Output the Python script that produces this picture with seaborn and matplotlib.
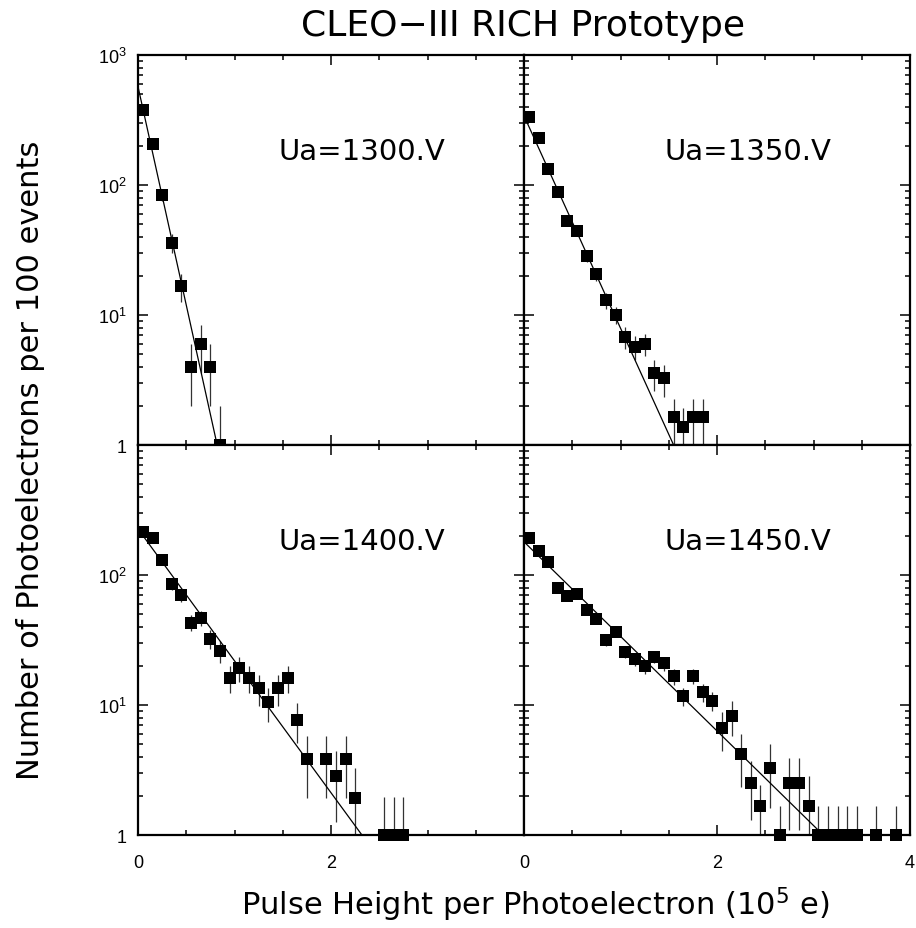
import matplotlib
matplotlib.use("Agg")
import matplotlib.pyplot as plt
import matplotlib.ticker as mticker
import numpy as np
import pandas as pd
import seaborn as sns

sns.set_style("ticks")
plt.rcParams['font.family'] = ['DejaVu Sans']
plt.rcParams['text.color'] = 'black'
plt.rcParams['xtick.color'] = 'black'
plt.rcParams['ytick.color'] = 'black'
plt.rcParams['axes.labelcolor'] = 'black'

# bin centres (10^5 e) and photoelectrons per 100 events
x_1300 = [0.05, 0.15, 0.25, 0.35, 0.45, 0.55, 0.65, 0.75, 0.85]
y_1300 = [375, 205, 84, 36, 16.6, 4, 6, 4, 1]
e_1300 = [19, 14, 9, 6, 4, 2, 2.4, 2, 1]

x_1350 = [0.05, 0.15, 0.25, 0.35, 0.45, 0.55, 0.65, 0.75, 0.85, 0.95,
          1.05, 1.15, 1.25, 1.35, 1.45, 1.55, 1.65, 1.75, 1.85]
y_1350 = [332, 229, 133, 88, 53, 44.5, 28.3, 20.5, 13, 10,
          6.8, 5.7, 6.0, 3.56, 3.26, 1.63, 1.37, 1.63, 1.63]
e_1350 = [9, 7.6, 5.8, 4.7, 3.6, 3.3, 2.7, 2.3, 1.8, 1.5,
          1.3, 1.2, 1.2, 0.95, 0.9, 0.63, 0.55, 0.63, 0.63]

x_1400 = [0.05, 0.15, 0.25, 0.35, 0.45, 0.55, 0.65, 0.75, 0.85, 0.95,
          1.05, 1.15, 1.25, 1.35, 1.45, 1.55, 1.65, 1.75, 1.95, 2.05,
          2.15, 2.25, 2.55, 2.65, 2.75]
y_1400 = [215, 194, 130, 86, 70, 43, 46.7, 32.4, 26, 16.2,
          19.1, 16.2, 13.4, 10.5, 13.4, 16.2, 7.7, 3.84, 3.84, 2.86,
          3.84, 1.91, 1, 1, 1]
e_1400 = [14, 13, 11, 9, 8, 6.2, 6.5, 5.4, 4.8, 3.8,
          4.2, 3.8, 3.5, 3.1, 3.5, 3.8, 2.6, 1.9, 1.9, 1.6,
          1.9, 1.35, 0.95, 0.95, 0.95]

x_1450 = [0.05, 0.15, 0.25, 0.35, 0.45, 0.55, 0.65, 0.75, 0.85, 0.95,
          1.05, 1.15, 1.25, 1.35, 1.45, 1.55, 1.65, 1.75, 1.85, 1.95,
          2.05, 2.15, 2.25, 2.35, 2.45, 2.55, 2.65, 2.75, 2.85, 2.95,
          3.05, 3.15, 3.25, 3.35, 3.45, 3.65, 3.85]
y_1450 = [193, 152, 127, 80, 68.5, 71.4, 54, 46, 31.6, 36.6,
          25.7, 22.6, 19.8, 23.5, 20.9, 16.6, 11.7, 16.6, 12.5, 10.8,
          6.6, 8.3, 4.17, 2.5, 1.66, 3.3, 1, 2.5, 2.5, 1.66,
          1, 1, 1, 1, 1, 1, 1]
e_1450 = [7.6, 6.8, 6.2, 4.9, 4.5, 4.6, 4, 3.7, 3.1, 3.3,
          2.8, 2.6, 2.4, 2.6, 2.5, 2.3, 1.8, 2.2, 2, 1.8,
          2.2, 2.5, 1.85, 1.2, 0.75, 1.7, 0.68, 1.4, 1.4, 1.2,
          0.68, 0.68, 0.68, 0.68, 0.68, 0.68, 0.68]

# exponential fit lines: end points (straight on log scale)
fit_x = {"1300": [0, 0.82], "1350": [0, 1.55], "1400": [0, 2.32], "1450": [0, 3.1]}
fit_y = {"1300": [570, 1], "1350": [340, 1], "1400": [226, 1], "1450": [180, 1]}

panels = [("1300", x_1300, y_1300, e_1300),
          ("1350", x_1350, y_1350, e_1350),
          ("1400", x_1400, y_1400, e_1400),
          ("1450", x_1450, y_1450, e_1450)]

fig = plt.figure(figsize=(9.16, 9.29), dpi=100)

W, H = 0.4214, 0.4198
L, B = 0.1507, 0.1001
pos = [(L, B + H), (L + W, B + H), (L, B), (L + W, B)]

def ytick_fmt(v, p):
    e = int(round(np.log10(v)))
    return "1" if e == 0 else r"$\mathregular{10^{%d}}$" % e

for i, (volt, xs, ys, es) in enumerate(panels):
    ax = fig.add_axes([pos[i][0], pos[i][1], W, H])
    df = pd.DataFrame({"x": xs, "y": ys})
    fd = pd.DataFrame({"x": fit_x[volt], "y": fit_y[volt]})

    ax.errorbar(xs, ys, yerr=es, fmt='none', ecolor='#333333', elinewidth=0.9, capsize=0)
    sns.lineplot(data=fd, x="x", y="y", ax=ax, color='black', linewidth=0.9)
    sns.scatterplot(data=df, x="x", y="y", ax=ax, marker='s', s=64, color='black',
                    linewidth=0, clip_on=False, zorder=5)

    ax.set_yscale('log')
    ax.set_xlim(0, 4)
    ax.set_ylim(1, 1000)
    ax.set_xlabel("")
    ax.set_ylabel("")

    ax.xaxis.set_major_locator(mticker.MultipleLocator(2))
    ax.xaxis.set_minor_locator(mticker.MultipleLocator(0.5))
    ax.yaxis.set_major_locator(mticker.LogLocator(base=10, numticks=10))
    ax.yaxis.set_minor_locator(mticker.LogLocator(base=10, subs=np.arange(2, 10), numticks=10))
    ax.yaxis.set_minor_formatter(mticker.NullFormatter())

    ax.tick_params(which='both', direction='in', top=True, right=True, width=1.1,
                   labelsize=13)
    ax.tick_params(which='major', length=7)
    ax.tick_params(which='minor', length=3.6)
    ax.tick_params(axis='x', which='both', pad=14)
    ax.tick_params(axis='y', which='both', pad=8)

    for sp in ax.spines.values():
        sp.set_linewidth(1.6)
        sp.set_color('black')

    # tick labels only on the outer edges, without overlaps at the joins
    if i % 2 == 0:
        yt = [1, 10, 100, 1000] if i == 0 else [1, 10, 100]
        ax.yaxis.set_major_formatter(mticker.FuncFormatter(
            lambda v, p, yt=yt: ytick_fmt(v, p) if any(np.isclose(v, t) for t in yt) else ""))
    else:
        ax.yaxis.set_major_formatter(mticker.NullFormatter())
    if i >= 2:
        xt = [0, 2] if i == 2 else [0, 2, 4]
        ax.xaxis.set_major_formatter(mticker.FuncFormatter(
            lambda v, p, xt=xt: "%d" % v if any(np.isclose(v, t) for t in xt) else ""))
    else:
        ax.xaxis.set_major_formatter(mticker.NullFormatter())
    for lab in ax.get_xticklabels() + ax.get_yticklabels():
        lab.set_fontfamily('Liberation Sans')

    ax.text(0.58, 0.755, f"Ua={volt}.V", transform=ax.transAxes,
            ha='center', va='center', fontsize=21)

fig.text(0.571, 0.972, "CLEO\u2212III RICH Prototype", ha='center', va='center', fontsize=26)
fig.text(0.584, 0.026, r"Pulse Height per Photoelectron (10$^{5}$ e)", ha='center',
         va='center', fontsize=22)
fig.text(0.033, 0.505, "Number of Photoelectrons per 100 events", ha='center',
         va='center', rotation=90, fontsize=22)

fig.savefig("out.png", dpi=100)
